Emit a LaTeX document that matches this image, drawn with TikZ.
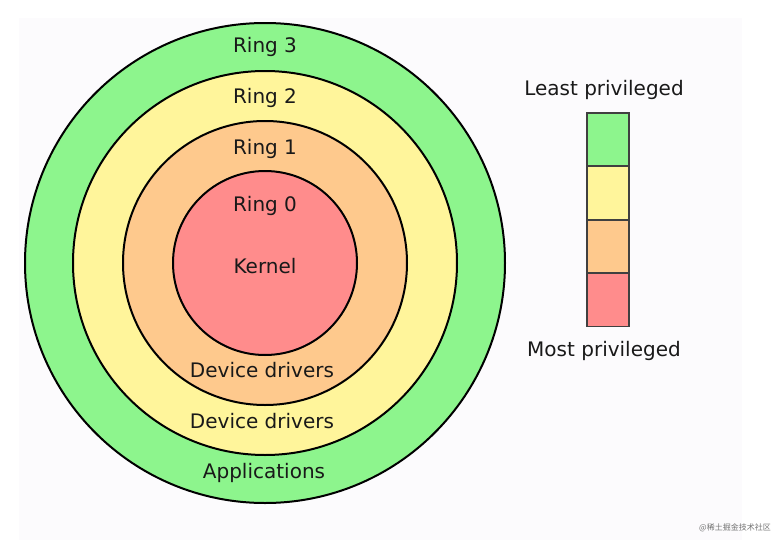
\documentclass[tikz,border=0pt]{standalone}
\usepackage{fontspec}
\setmainfont{DejaVu Sans}
\newfontfamily\cjkfont{Noto Sans CJK SC}
\definecolor{ringgreen}{HTML}{8DF58D}
\definecolor{ringyellow}{HTML}{FFF59B}
\definecolor{ringorange}{HTML}{FEC98D}
\definecolor{ringred}{HTML}{FF8C8C}
\definecolor{panelbg}{HTML}{FCFBFD}
\begin{document}
\begin{tikzpicture}[
  x=0.75pt, y=-0.75pt,
  ring/.style={draw=black, line width=1.5pt},
  label/.style={font=\fontsize{15}{18}\selectfont, text=black!90, inner sep=0pt},
  legbox/.style={draw=black!75, line width=1.1pt, minimum width=31.5pt, minimum height=40pt, inner sep=0pt}
]
\useasboundingbox (0,0) rectangle (783,543);
\fill[panelbg] (19,18) rectangle (742,540);
% rings, outside in
\coordinate (c) at (265,263);
\draw[ring, fill=ringgreen] (c) circle (240);
\draw[ring, fill=ringyellow] (c) circle (192);
\draw[ring, fill=ringorange] (c) circle (142);
\draw[ring, fill=ringred] (c) circle (92);
\node[label] (r3) at (265,47) {Ring 3};
\node[label] (r2) at (265,98) {Ring 2};
\node[label] (r1) at (265,149) {Ring 1};
\node[label] (r0) at (265,206) {Ring 0};
\node[label] (kern) at (265,266) {Kernel};
\node[label] (dd1) at (262,370) {Device drivers};
\node[label] (dd2) at (262,421) {Device drivers};
\node[label] (apps) at (264,473) {Applications};
% legend
\node[legbox, fill=ringgreen] (l3) at (608,139.5) {};
\node[legbox, fill=ringyellow] (l2) at (608,193) {};
\node[legbox, fill=ringorange] (l1) at (608,246.5) {};
\node[legbox, fill=ringred] (l0) at (608,300) {};
\node[label] (least) at (604,90) {Least privileged};
\node[label] (most) at (604,351) {Most privileged};
\node[font=\cjkfont\fontsize{6}{7}\selectfont, text=black!55, inner sep=0pt] (wm) at (735,528) {@稀土掘金技术社区};
\end{tikzpicture}
\end{document}
